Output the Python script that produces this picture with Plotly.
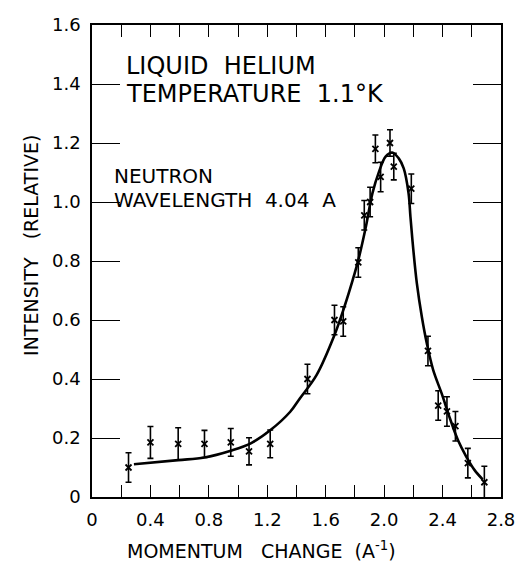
import plotly.graph_objects as go

# Measured data points (momentum change, relative intensity, error)
mom = [0.25, 0.40, 0.59, 0.77, 0.95, 1.075, 1.22, 1.475, 1.66, 1.72, 1.823, 1.864,
       1.904, 1.94, 1.976, 2.04, 2.066, 2.186, 2.30, 2.37, 2.43, 2.488, 2.573, 2.686]
inten = [0.10, 0.185, 0.18, 0.18, 0.185, 0.155, 0.18, 0.40, 0.60, 0.595, 0.795, 0.955,
         1.00, 1.18, 1.085, 1.20, 1.12, 1.045, 0.495, 0.31, 0.29, 0.24, 0.115, 0.05]
err = [0.05, 0.054, 0.055, 0.046, 0.047, 0.046, 0.047, 0.05, 0.05, 0.05, 0.05, 0.05,
       0.05, 0.047, 0.05, 0.045, 0.045, 0.05, 0.05, 0.05, 0.05, 0.05, 0.05, 0.054]

# Smooth curve
curve_x = [0.287, 0.59, 0.77, 0.95, 1.087, 1.222, 1.357, 1.424, 1.537, 1.66, 1.728, 1.785,
           1.823, 1.875, 1.92, 1.965, 2.01, 2.055, 2.10, 2.134, 2.167, 2.18, 2.20, 2.224,
           2.258, 2.292, 2.336, 2.393, 2.45, 2.505, 2.562, 2.618, 2.674]
curve_y = [0.111, 0.125, 0.134, 0.157, 0.182, 0.227, 0.289, 0.335, 0.413, 0.549, 0.645, 0.736,
           0.803, 0.916, 1.03, 1.103, 1.154, 1.168, 1.148, 1.114, 1.03, 0.95, 0.837, 0.724,
           0.611, 0.521, 0.43, 0.352, 0.267, 0.193, 0.137, 0.092, 0.06]

x_ticks = [0, 0.4, 0.8, 1.2, 1.6, 2.0, 2.4, 2.8]
x_tick_text = ["0", "0.4", "0.8", "1.2", "1.6", "2.0", "2.4", "2.8"]
y_ticks = [0, 0.2, 0.4, 0.6, 0.8, 1.0, 1.2, 1.4, 1.6]
y_tick_text = ["0", "0.2", "0.4", "0.6", "0.8", "1.0", "1.2", "1.4", "1.6"]

FONT = "DejaVu Sans"

fig = go.Figure()
fig.add_trace(go.Scatter(
    x=curve_x, y=curve_y, mode="lines",
    line=dict(color="black", width=2.6, shape="spline", smoothing=1.0),
    hoverinfo="skip", showlegend=False))
fig.add_trace(go.Scatter(
    x=mom, y=inten, mode="markers",
    marker=dict(symbol="x-thin", size=6, line=dict(color="black", width=1.8), color="black"),
    error_y=dict(type="data", array=err, visible=True, color="black", thickness=1.6, width=3),
    showlegend=False))

axis_common = dict(showline=True, linecolor="black", linewidth=1.5, mirror="ticks",
                   ticks="inside", tickcolor="black", tickwidth=1.3, showgrid=False,
                   zeroline=False, tickfont=dict(family=FONT, size=18, color="black"))

fig.update_xaxes(range=[0, 2.8], tickvals=x_ticks, ticktext=x_tick_text, ticklen=12,
                 minor=dict(dtick=0.2, ticks="inside", ticklen=12, tickcolor="black", tickwidth=1.3),
                 ticklabelstandoff=6, **axis_common)
fig.update_yaxes(range=[0, 1.6], tickvals=y_ticks, ticktext=y_tick_text, ticklen=28,
                 ticklabelstandoff=6, **axis_common)

def txt(s, x, y, size, xanchor="left", angle=0):
    fig.add_annotation(text=s, x=x, y=y, xref="paper", yref="paper", showarrow=False,
                       xanchor=xanchor, yanchor="middle", textangle=angle,
                       font=dict(family=FONT, size=size, color="black"))

txt("LIQUID\u00a0 HELIUM", 0.078, 0.913, 24)
txt("TEMPERATURE\u00a0 1.1°K", 0.078, 0.854, 24)
txt("NEUTRON", 0.05, 0.681, 20)
txt("WAVELENGTH\u00a0 4.04\u00a0 A", 0.05, 0.629, 20)
txt("INTENSITY\u00a0\u00a0 (RELATIVE)", -0.149, 0.532, 19, xanchor="center", angle=-90)
txt("MOMENTUM\u00a0\u00a0 CHANGE\u00a0 (A<sup>-1</sup>)", 0.414, -0.112, 19, xanchor="center")

fig.update_layout(width=527, height=563, plot_bgcolor="white", paper_bgcolor="white",
                  margin=dict(l=92, r=20, t=25, b=66), showlegend=False)

fig.write_html("out.html", config={"displayModeBar": False},
               post_script="document.body.style.margin='0';document.body.style.overflow='hidden';")
